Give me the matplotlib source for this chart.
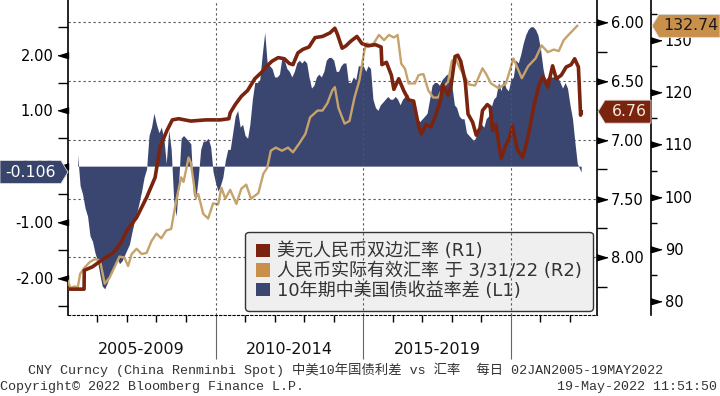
import matplotlib
matplotlib.use('Agg')
import matplotlib.pyplot as plt
import matplotlib.dates as mdates
from matplotlib.ticker import MultipleLocator, FuncFormatter
from matplotlib.patches import Patch, Polygon
from matplotlib.transforms import IdentityTransform
from matplotlib.font_manager import FontProperties
import pandas as pd

# ---- data ----
# 10y China - US government bond yield spread, monthly, May 2005 .. May 2022 (L1)
spread = [
    0.2, -0.35, -0.5, -0.75, -0.9, -1.25, -1.35, -1.55,                     # 2005 (May-Dec)
    -1.7, -1.95, -2.15, -2.2, -2.1, -1.98, -1.9, -1.8, -1.65, -1.75, -1.7, -1.6,  # 2006
    -1.5, -1.4, -1.2, -1.0, -0.85, -0.65, -0.45, -0.2, -0.05, 0.55, 0.7, 0.95,    # 2007
    0.75, 0.6, 0.7, 0.5, 0.05, 0.65, 0.3, -0.6, -0.9, -0.3, 0.5, 0.55,           # 2008
    0.5, 0.45, 0.4, -0.5, -0.6, -0.2, 0.3, 0.45, 0.45, 0.5, 0.35, -0.1,          # 2009
    -0.3, -0.45, -0.35, -0.2, 0.1, 0.3, 0.3, 0.6, 0.9, 1.0, 0.7, 0.75,           # 2010
    0.55, 0.5, 0.75, 1.2, 1.5, 1.5, 1.55, 2.0, 2.4, 1.85, 1.8, 1.75,             # 2011
    1.6, 1.6, 1.65, 1.95, 1.9, 1.75, 1.7, 1.6, 1.7, 1.85, 1.9, 1.85,             # 2012
    1.9, 1.85, 1.6, 1.4, 1.45, 1.6, 1.65, 1.6, 1.7, 1.9, 1.95, 1.95,             # 2013
    1.9, 1.7, 1.7, 1.8, 1.85, 1.85, 1.5, 1.5, 1.6, 1.55, 1.8, 1.8,               # 2014
    1.8, 1.7, 1.8, 1.75, 1.2, 1.05, 1.0, 1.1, 1.15, 1.2, 1.25, 1.2,              # 2015
    1.2, 1.25, 1.2, 1.1, 1.2, 1.25, 1.3, 1.15, 1.2, 0.9, 0.85, 0.8,              # 2016
    0.85, 0.9, 0.95, 1.2, 1.45, 1.5, 1.5, 1.45, 1.55, 1.6, 1.65, 1.6,            # 2017
    1.45, 1.1, 1.05, 0.9, 0.85, 0.85, 0.6, 0.55, 0.5, 0.45, 0.55, 0.7,           # 2018
    0.75, 0.7, 0.85, 0.9, 1.05, 1.2, 1.25, 1.5, 1.35, 1.55, 1.4, 1.35,           # 2019
    1.55, 1.6, 1.9, 1.85, 2.0, 2.2, 2.35, 2.45, 2.5, 2.5, 2.45, 2.35,            # 2020
    2.1, 1.75, 1.55, 1.6, 1.6, 1.6, 1.6, 1.6, 1.5, 1.4, 1.5, 1.4,                # 2021
    1.1, 0.85, 0.45, 0.05, -0.106,                                               # 2022 (Jan-May)
]
spread_dates = list(pd.date_range('2005-05-01', '2022-05-01', freq='MS'))
spread_dates[-1] = pd.Timestamp('2022-05-19')

# USDCNY spot (R1, inverted)
usdcny_dates = [
    '2005-01-03', '2005-07-20', '2005-07-22', '2005-11-01', '2006-03-01', '2006-07-15',
    '2006-10-15', '2007-01-01', '2007-05-01', '2007-09-01', '2007-12-15', '2008-02-15',
    '2008-05-10', '2008-07-15', '2008-10-01', '2009-03-01', '2009-09-01', '2010-03-01',
    '2010-06-15', '2010-07-01', '2010-09-01', '2010-11-15', '2011-02-01', '2011-05-01',
    '2011-08-01', '2011-09-15', '2011-12-01', '2012-02-15', '2012-05-01', '2012-07-01',
    '2012-08-15', '2012-10-15', '2012-12-15', '2013-03-01', '2013-05-15', '2013-08-15',
    '2013-11-15', '2014-01-15', '2014-02-15', '2014-04-15', '2014-06-01', '2014-08-01',
    '2014-10-15', '2014-12-15', '2015-03-01', '2015-06-01', '2015-08-10', '2015-08-20',
    '2015-10-15', '2015-12-15', '2016-01-15', '2016-03-15', '2016-05-15', '2016-07-15',
    '2016-09-15', '2016-11-15', '2016-12-20', '2017-02-15', '2017-04-15', '2017-06-15',
    '2017-08-15', '2017-09-10', '2017-11-15', '2017-12-20', '2018-02-10', '2018-03-15',
    '2018-04-20', '2018-06-15', '2018-07-20', '2018-09-15', '2018-10-30', '2018-12-15',
    '2019-01-15', '2019-03-15', '2019-04-20', '2019-05-20', '2019-06-30', '2019-08-10',
    '2019-09-05', '2019-10-20', '2019-12-15', '2020-01-20', '2020-03-20', '2020-05-25',
    '2020-06-30', '2020-08-15', '2020-10-15', '2020-12-15', '2021-02-01', '2021-04-01',
    '2021-05-31', '2021-07-15', '2021-09-15', '2021-11-15', '2022-01-15', '2022-02-28',
    '2022-04-15', '2022-04-30', '2022-05-12', '2022-05-19',
]
usdcny = [
    8.27, 8.27, 8.11, 8.08, 8.02, 7.96,
    7.88, 7.77, 7.66, 7.49, 7.32, 7.06,
    6.92, 6.83, 6.82, 6.84, 6.83, 6.83,
    6.82, 6.77, 6.70, 6.63, 6.58, 6.48,
    6.42, 6.38, 6.33, 6.30, 6.31, 6.35,
    6.36, 6.26, 6.23, 6.21, 6.13, 6.12,
    6.09, 6.05, 6.10, 6.22, 6.20, 6.16,
    6.12, 6.18, 6.20, 6.19, 6.21, 6.36,
    6.34, 6.45, 6.57, 6.48, 6.58, 6.66,
    6.67, 6.88, 6.95, 6.87, 6.89, 6.79,
    6.66, 6.53, 6.62, 6.55, 6.29, 6.28,
    6.33, 6.50, 6.78, 6.85, 6.96, 6.90,
    6.75, 6.70, 6.72, 6.92, 6.87, 7.06,
    7.16, 7.06, 6.98, 6.88, 7.08, 7.15,
    7.06, 6.92, 6.70, 6.53, 6.46, 6.55,
    6.37, 6.48, 6.45, 6.38, 6.36, 6.31,
    6.38, 6.60, 6.79, 6.76,
]

# CNY real effective exchange rate (R2), last value 3/31/22
reer_dates = [
    '2005-01-01', '2005-02-01', '2005-04-01', '2005-05-01', '2005-06-01', '2005-08-01',
    '2005-10-01', '2005-12-01', '2006-02-01', '2006-04-01', '2006-06-01', '2006-08-01',
    '2006-10-01', '2006-12-01', '2007-01-15', '2007-03-01', '2007-05-01', '2007-07-01',
    '2007-09-01', '2007-11-01', '2008-01-01', '2008-03-01', '2008-05-01', '2008-07-01',
    '2008-09-01', '2008-11-01', '2008-12-01', '2009-02-01', '2009-03-01', '2009-05-01',
    '2009-06-01', '2009-08-01', '2009-10-01', '2009-12-01', '2010-02-01', '2010-03-15',
    '2010-05-01', '2010-07-01', '2010-09-15', '2010-11-15', '2011-01-15', '2011-03-15',
    '2011-06-15', '2011-08-15', '2011-10-01', '2011-11-15', '2012-01-15', '2012-04-01',
    '2012-06-15', '2012-08-15', '2012-11-01', '2013-01-15', '2013-03-15', '2013-06-15',
    '2013-08-15', '2013-10-15', '2013-12-15', '2014-01-15', '2014-03-01', '2014-05-15',
    '2014-07-15', '2014-09-15', '2014-11-15', '2015-01-15', '2015-02-15', '2015-04-01',
    '2015-05-15', '2015-07-15', '2015-09-15', '2015-11-15', '2016-01-15', '2016-03-01',
    '2016-04-15', '2016-06-01', '2016-07-15', '2016-10-01', '2016-11-15', '2017-01-15',
    '2017-03-15', '2017-05-15', '2017-07-15', '2017-09-15', '2017-11-15', '2018-01-01',
    '2018-02-15', '2018-04-15', '2018-06-01', '2018-08-01', '2018-10-15', '2019-01-15',
    '2019-03-01', '2019-05-01', '2019-08-01', '2019-11-01', '2020-02-01', '2020-05-15',
    '2020-08-01', '2020-11-01', '2021-01-15', '2021-04-01', '2021-06-15', '2021-08-15',
    '2021-10-15', '2021-12-01', '2022-02-01', '2022-03-31',
]
reer = [
    83.8, 82.5, 82.8, 82.4, 85.2, 86.5,
    87.5, 88.0, 87.8, 83.3, 84.5, 86.5,
    88.5, 88.3, 86.7, 89.0, 90.0, 89.0,
    89.2, 91.5, 92.9, 92.0, 93.5, 93.8,
    99.2, 103.7, 102.8, 107.5, 106.5, 99.8,
    100.5, 96.7, 95.8, 98.7, 98.5, 101.7,
    99.6, 101.3, 98.6, 101.5, 102.3, 99.6,
    100.7, 104.4, 105.5, 108.8, 109.4, 108.8,
    109.4, 108.5, 110.2, 112.0, 115.2, 116.5,
    116.5, 117.9, 120.4, 121.0, 117.0, 114.0,
    114.5, 119.0, 122.3, 128.0, 129.4, 129.0,
    129.5, 131.0, 130.0, 131.0, 130.5, 131.0,
    125.5, 124.5, 121.7, 121.7, 123.3, 123.5,
    120.4, 119.0, 119.0, 121.0, 122.0, 126.0,
    126.5, 124.5, 123.3, 121.5, 121.3, 124.6,
    123.5, 121.7, 120.8, 121.7, 126.5, 122.7,
    125.0, 126.5, 129.0, 127.7, 128.2, 127.9,
    130.0, 130.8, 131.8, 132.74,
]

series_labels = ['美元人民币双边汇率 (R1)',
                 '人民币实际有效汇率 于 3/31/22 (R2)',
                 '10年期中美国债收益率差 (L1)']
period_labels = ['2005-2009', '2010-2014', '2015-2019']
period_centers = ['2007-07-02', '2012-07-02', '2017-07-02']

RED = '#7a2410'
TAN = '#c6a26c'
TAN_BOX = '#c8904b'
NAVY = '#3b4670'
GRID = '#555555'

plt.rcParams['font.family'] = ['DejaVu Sans']

fig = plt.figure(figsize=(7.2, 3.96), dpi=100)
ax = fig.add_axes([68 / 720, 81 / 396, 529 / 720, 315 / 396])
ax_grid = ax.twinx()
ax_r2 = ax.twinx()
ax_r1 = ax.twinx()
ax_grid.set_zorder(0)
ax.set_zorder(1)
ax_r2.set_zorder(2)
ax_r1.set_zorder(3)
ax.patch.set_visible(False)

x0, x1 = pd.Timestamp('2005-01-02'), pd.Timestamp('2022-12-01')

# spread area (L1)
ax.fill_between(spread_dates, spread, 0, color=NAVY, lw=0, interpolate=True)
ax.set_xlim(x0, x1)
ax.set_ylim(-2.67, 2.98)
ax.yaxis.set_major_locator(MultipleLocator(1))
ax.yaxis.set_minor_locator(MultipleLocator(0.5))
ax.yaxis.set_major_formatter(FuncFormatter(lambda v, p: f'{v:.2f}'))
ax.xaxis.set_major_locator(mdates.YearLocator(5))
ax.xaxis.set_minor_locator(mdates.YearLocator(1))
ax.tick_params(axis='x', which='major', length=32, width=0.8, color='#666666',
               labelbottom=False)
ax.tick_params(axis='x', which='minor', length=5, width=1, color='black')
ax.tick_params(axis='y', which='major', length=0, pad=10.5, labelsize=10.5)
ax.tick_params(axis='y', which='minor', length=7, width=1, color='black')
for s in ['top', 'right']:
    ax.spines[s].set_visible(False)
ax.spines['bottom'].set_linestyle((0, (2, 2)))
ax.spines['left'].set_linewidth(1.2)

# horizontal grid tied to R1 scale, drawn behind everything
ax_grid.set_ylim(8.49, 5.81)
ax_grid.yaxis.set_major_locator(MultipleLocator(0.5))
ax_grid.grid(axis='y', color=GRID, ls=(0, (2, 2.5)), lw=0.8)
ax_grid.tick_params(axis='y', right=False, labelright=False, left=False)
for s in ax_grid.spines.values():
    s.set_visible(False)

# REER (R2)
ax_r2.plot(pd.to_datetime(reer_dates), reer, color=TAN, lw=1.7)
ax_r2.set_ylim(77.3, 137.7)
ax_r2.yaxis.set_major_locator(MultipleLocator(10))
ax_r2.yaxis.set_minor_locator(MultipleLocator(5))
ax_r2.yaxis.set_major_formatter(FuncFormatter(lambda v, p: f'{v:.0f}'))
ax_r2.spines['right'].set_position(('axes', 583 / 529))
ax_r2.spines['right'].set_linewidth(1.2)
for s in ['left', 'top', 'bottom']:
    ax_r2.spines[s].set_visible(False)
ax_r2.tick_params(axis='y', which='major', length=0, pad=10, labelsize=10.5)
ax_r2.tick_params(axis='y', which='minor', length=4.5, width=1, color='black')

# USDCNY (R1, inverted)
ax_r1.plot(pd.to_datetime(usdcny_dates), usdcny, color=RED, lw=2.6)
ax_r1.set_ylim(8.49, 5.81)
ax_r1.yaxis.set_major_locator(MultipleLocator(0.5))
ax_r1.yaxis.set_minor_locator(MultipleLocator(0.25))
ax_r1.yaxis.set_major_formatter(FuncFormatter(lambda v, p: f'{v:.2f}'))
for s in ['left', 'top', 'bottom']:
    ax_r1.spines[s].set_visible(False)
ax_r1.spines['right'].set_linewidth(1.2)
ax_r1.tick_params(axis='y', which='major', length=0, pad=10, labelsize=10.5)
ax_r1.tick_params(axis='y', which='minor', length=7, width=1, color='black')

ax.set_xlim(x0, x1)


# triangle tick marks
def tri_ticks(axis, xpos, direction):
    lo, hi = sorted(axis.get_ylim())
    vals = [v for v in axis.get_yticks() if lo <= v <= hi]
    axis.plot([xpos] * len(vals), vals, ls='none',
              marker=[(0, 0.3), (0, -0.3), (direction, 0)], ms=15,
              color='black', clip_on=False, transform=axis.get_yaxis_transform(),
              zorder=6)


tri_ticks(ax, 0, -1)
tri_ticks(ax_r1, 1, 1)
tri_ticks(ax_r2, 583 / 529, 1)

# vertical grid at 5-year boundaries, drawn on top (also over legend)
xl = ax.get_xlim()
for loc in ax.get_xticks():
    if xl[0] < loc < xl[1]:
        ax_r1.axvline(loc, color=GRID, ls=(0, (2, 2.5)), lw=0.8, zorder=10)

# legend
leg_font = FontProperties(family=['DejaVu Sans', 'Noto Sans CJK SC'], size=13)
handles = [Patch(facecolor=c, edgecolor='none') for c in [RED, TAN_BOX, NAVY]]
leg = ax_r1.legend(handles, series_labels, loc='lower right',
                   bbox_to_anchor=(0.992, 0.013), borderaxespad=0, prop=leg_font,
                   handlelength=0.75, handleheight=0.75, handletextpad=0.4,
                   labelspacing=0.1, borderpad=0.6, facecolor='#efefef',
                   edgecolor='#333333', framealpha=1)
leg.get_frame().set_linewidth(1)
for t in leg.get_texts():
    t.set_color('#333333')

# period labels under the axis
for lab, c in zip(period_labels, period_centers):
    ax.text(pd.Timestamp(c), -0.111, lab, transform=ax.get_xaxis_transform(),
            ha='center', va='center', fontsize=11.5, color='#111111')


# last-value tags
def value_tag(axis, val, text, tip, body0, body1, color, tcolor):
    yc = axis.transData.transform((0, val))[1]
    h = 11.5
    if tip > body1:
        verts = [(body0, yc - h), (body1, yc - h), (tip, yc), (body1, yc + h), (body0, yc + h)]
    else:
        verts = [(tip, yc), (body0, yc - h), (body1, yc - h), (body1, yc + h), (body0, yc + h)]
    fig.add_artist(Polygon(verts, closed=True, facecolor=color, edgecolor='#dddddd',
                           lw=0.6, transform=IdentityTransform(), zorder=20))
    fig.text((body0 + body1) / 2 + (0 if tip > body1 else 1), yc, text,
             transform=IdentityTransform(), ha='center', va='center',
             fontsize=11.3, color=tcolor, zorder=21)


value_tag(ax, spread[-1], f'{spread[-1]:.3f}', 68, 0, 61, '#38446b', 'white')
value_tag(ax_r1, usdcny[-1], f'{usdcny[-1]:.2f}', 598, 605, 651, RED, '#f6e8d8')
value_tag(ax_r2, reer[-1], f'{reer[-1]:.2f}', 652, 659, 720, TAN_BOX, '#1a1a1a')

# footer
foot_font = ['Liberation Mono', 'Noto Sans CJK SC']
fig.text(28 / 720, 1 - 370 / 396,
         'CNY Curncy (China Renminbi Spot) 中美10年国债利差 vs 汇率  每日 02JAN2005-19MAY2022',
         family=foot_font, fontsize=9.6, color='#333333', va='center', ha='left')
fig.text(0, 1 - 387 / 396, 'Copyright© 2022 Bloomberg Finance L.P.',
         family=foot_font, fontsize=9.6, color='#333333', va='center', ha='left')
fig.text(717 / 720, 1 - 387 / 396, '19-May-2022 11:51:50',
         family=foot_font, fontsize=9.6, color='#333333', va='center', ha='right')

fig.savefig('out.png', dpi=100)
